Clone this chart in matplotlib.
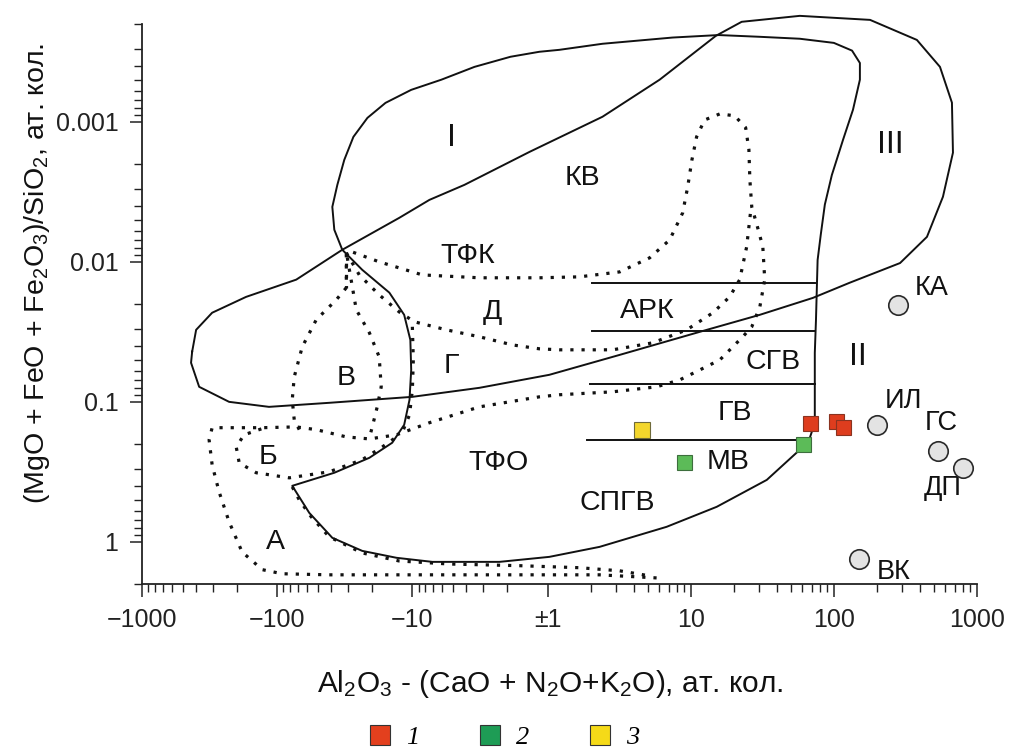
"""
Neelov-type diagram: (MgO+FeO+Fe2O3)/SiO2 vs Al2O3-(CaO+Na2O+K2O)
"""
import numpy as np, matplotlib
matplotlib.use('Agg')
import matplotlib.pyplot as plt
from matplotlib.lines import Line2D
from matplotlib.ticker import LogLocator, NullFormatter

plt.rcParams['font.family'] = ['Liberation Sans', 'DejaVu Sans']
plt.rcParams['mathtext.fontset'] = 'custom'
plt.rcParams['mathtext.rm'] = 'Liberation Sans'
plt.rcParams['mathtext.it'] = 'Liberation Sans:italic'

# ---- samples ----
g1_x = [67.9, 103, 116]
g1_y = [0.141, 0.138, 0.152]
g2_x = [60.4, 8.93]
g2_y = [0.200, 0.267]
g3_x = [4.59]
g3_y = [0.158]

ref_names = ['КА', 'ИЛ', 'ГС', 'ДП', 'ВК']
ref_x = [281, 199, 536, 802, 150]
ref_y = [0.0203, 0.146, 0.223, 0.298, 1.33]

# ---- field boundaries (solid) ----
fieldI_x = [73.6, 73.6, 73.6, 75, 76, 77, 81, 86.5, 96.8, 116, 136, 152, 152, 134, 100,
            57.8, 30.4, 15.7, 7.48, 2.42, 1.21, -1.15, -1.88, -3.47, -6.1, -10.2, -15.8,
            -21.5, -27.3, -31.9, -35.9, -39.1, -37.8, -33, -23.5, -14.8, -11.5, -10.35,
            -10.2, -10.5, -11.5, -14.1, -20.8, -37.8, -77.4, -57.9, -39.1, -23.5, -13.1,
            -7.11, -2.27, 1.03, 2.31, 6.79, 15.2, 34, 57.8, 67.9, 73.6]
fieldI_y = [0.141, 0.078, 0.0447, 0.026, 0.0158, 0.0097, 0.0064, 0.0039, 0.0024, 0.00134,
            0.00082, 0.0005, 0.00038, 0.00031, 0.000273, 0.000255, 0.000247, 0.00024,
            0.00025, 0.000277, 0.000306, 0.000316, 0.000343, 0.000405, 0.0005, 0.000591,
            0.000732, 0.000937, 0.00128, 0.00187, 0.00282, 0.00405, 0.0059, 0.0082,
            0.0114, 0.0166, 0.0239, 0.0361, 0.0591, 0.0968, 0.146, 0.196, 0.251, 0.321,
            0.398, 0.621, 0.936, 1.16, 1.30, 1.39, 1.39, 1.28, 1.086, 0.781, 0.562,
            0.361, 0.22, 0.181, 0.141]

lens_x = [-426, -398, -303, -170, -72.3, -33, -12.5, -7.48, -4.12, -1.36, 2.42, 6.07, 15,
          22.7, 57.8, 179, 380, 551, 668, 679, 578, 447, 290, 129, 71.3, 30.4, 11.6,
          3.19, 1.03, -3.19, -10, -41.2, -115, -227, -378, -434, -426]
lens_y = [0.0439, 0.0306, 0.0231, 0.0178, 0.0134, 0.0082, 0.00485, 0.00361, 0.00282,
          0.00164, 0.00092, 0.0005, 0.000243, 0.000193, 0.000175, 0.000187, 0.00026,
          0.000405, 0.00073, 0.00166, 0.00343, 0.00663, 0.0102, 0.0141, 0.0181, 0.0239,
          0.0316, 0.0462, 0.0641, 0.0794, 0.0921, 0.1016, 0.1086, 0.1, 0.0781, 0.0526,
          0.0439]

hline_y = [0.0141, 0.0311, 0.0743, 0.187]
hline_x0 = [2.06, 2.06, 1.97, 1.9]
hline_x1 = [73.6, 73.6, 73.6, 57.8]

# ---- field boundaries (dotted) ----
dotA_x = [5.78, 2.31, -2.27, -12.5, -41.2, -91.8, -129, -182, -227, -269, -303, -319, -303,
          -129, -72.3, -51.4, -30.8, -20.8, -13.1, -7.48, -3.19, -1.15, 1.21, 2.85, 5.78,
          8.38, 11.6, 16, 23.1, 26.7, 30.4, 32.9, 31.9, 29, 26.7, 25.9, 25.5, 24.2, 20.3,
          16, 12.5, 11, 10.2, 9.53, 8.79, 7.13, 5.17, 3.19, 1.67, -1.15, -3.19, -8.43,
          -17.6, -30.8]
dotA_y = [1.81, 1.72, 1.72, 1.72, 1.72, 1.69, 1.58, 1.18, 0.719, 0.44, 0.282, 0.187, 0.153,
          0.153, 0.151, 0.158, 0.178, 0.184, 0.172, 0.141, 0.1086, 0.0921, 0.089, 0.0848,
          0.0781, 0.0697, 0.0591, 0.0501, 0.0343, 0.0291, 0.021, 0.0134, 0.00781, 0.00544,
          0.00405, 0.00259, 0.00158, 0.0011, 0.000906, 0.000877, 0.00097, 0.00128, 0.00187,
          0.00291, 0.00447, 0.00697, 0.00936, 0.0118, 0.0128, 0.013, 0.013, 0.0124, 0.01,
          0.0082]

dotA2_x = [-77.4, -68.7, -56, -41.2, -23.5, -12.5, -5.32, -1.61, 1.67, 3.19, 5.17]
dotA2_y = [0.405, 0.501, 0.663, 0.921, 1.2, 1.37, 1.44, 1.48, 1.53, 1.61, 1.75]

dotB_x = [-131, -176, -201, -191, -143, -81.5, -41.2, -23.5, -16.7, -13.1]
dotB_y = [0.156, 0.172, 0.21, 0.273, 0.321, 0.349, 0.316, 0.259, 0.21, 0.178]

dotV_x = [-68.7, -74.8, -77.4, -74.8, -65.3, -51.4, -36.6, -30.8, -30.8,
          -26, -20.8, -17.6, -17, -18.2, -19.8, -20.8]
dotV_y = [0.158, 0.1345, 0.0968, 0.0663, 0.0405, 0.0259, 0.0187, 0.0153, 0.0085,
          0.022, 0.0321, 0.0477, 0.0781, 0.1086, 0.151, 0.181]
dotV_stem_x = [-30.8, -30.8]
dotV_stem_y = [0.0085, 0.0153]

dotD_x = [-30.8, -24.7, -17.6, -12.5, -9.67, -5.6, -3.19, -1.82, -1.15, 1.21, 2.85, 5.42,
          9.38, 14.3, 18.7, 22, 24.6, 26.3]
dotD_y = [0.00862, 0.0124, 0.0172, 0.0228, 0.0268, 0.0306, 0.0343, 0.0392, 0.0418, 0.0425,
          0.0425, 0.0379, 0.0306, 0.0231, 0.0178, 0.0134, 0.00781, 0.00425]

dotG_x = [-10, -9.84, -10, -10.5, -11.9]
dotG_y = [0.0291, 0.0501, 0.0821, 0.124, 0.166]

# ---- field names ----
fields = [('I', -5.17, 0.0013), ('КВ', 1.76, 0.00251), ('III', 246, 0.00146),
          ('ТФК', -3.91, 0.00906), ('Д', -2.55, 0.0228), ('АРК', 5.0, 0.0224),
          ('Г', -5.14, 0.0553), ('В', -30.8, 0.0674), ('СГВ', 37.4, 0.0518),
          ('II', 147, 0.0477), ('ГВ', 20.3, 0.12), ('Б', -117, 0.247),
          ('ТФО', -2.31, 0.273), ('МВ', 18.2, 0.268), ('СПГВ', 3.09, 0.526),
          ('А', -103.5, 1.0)]
ref_offsets = [(24, 12), (19, 17), (2, 20), (-15, -14), (25, -9)]

# x axis: equal-width decades on both sides, collapsed at +-1
K = 135 / 143


def fwd(x):
    x = np.asarray(x, dtype=float)
    with np.errstate(all='ignore'):
        pos = np.log10(np.maximum(x, 1.0))
        neg = -K * np.log10(np.maximum(-x, 1.0))
    return np.where(x >= 0, pos, neg)


def inv(u):
    u = np.asarray(u, dtype=float)
    with np.errstate(all='ignore'):
        return np.where(u >= 0, 10.0 ** u, -10.0 ** (-u / K))


fig = plt.figure(figsize=(10.11, 7.49), dpi=100)
fig.patch.set_facecolor('white')
ax = fig.add_axes([0.1405, 0.2203, 0.8259, 0.7477])
ax.set_xscale('function', functions=(fwd, inv))
ax.set_yscale('log')
ax.set_xlim(-1000, 1000)
ax.set_ylim(2, 0.0002)

SOLID = dict(color='#111111', lw=1.4, solid_joinstyle='round')
DOT = dict(color='#111111', lw=2.3, ls=(0, (1, 2.5)))

ax.plot(fieldI_x, fieldI_y, **SOLID)
ax.plot(lens_x, lens_y, clip_on=False, **SOLID)
for y, x0, x1 in zip(hline_y, hline_x0, hline_x1):
    ax.plot([x0, x1], [y, y], **SOLID)

for xs, ys in [(dotA_x, dotA_y), (dotA2_x, dotA2_y), (dotB_x, dotB_y), (dotV_x, dotV_y),
               (dotV_stem_x, dotV_stem_y), (dotD_x, dotD_y), (dotG_x, dotG_y)]:
    ax.plot(xs, ys, **DOT)

for name, x, y in fields:
    size = 23 if name in ('I', 'II', 'III') else 20.5
    ax.text(x, y, name, ha='center', va='center', fontsize=size, color='#111111')

# reference rocks
ax.plot(ref_x, ref_y, 'o', ms=14, mfc='#e3e3e3', mec='#2a2a2a', mew=1.2, zorder=5)
for name, x, y, off in zip(ref_names, ref_x, ref_y, ref_offsets):
    ax.annotate(name, (x, y), xytext=off, textcoords='offset points',
                ha='center', va='center', fontsize=19.5, color='#111111')

# samples
ax.plot(g1_x, g1_y, 's', ms=10.8, mfc='#de3d1e', mec='#8a3320', mew=0.8, zorder=6)
ax.plot(g2_x, g2_y, 's', ms=10.8, mfc='#5cbb58', mec='#3d6e3d', mew=0.8, zorder=6)
ax.plot(g3_x, g3_y, 's', ms=11.2, mfc='#f3d62c', mec='#6e6a3a', mew=0.8, zorder=6)

# axes styling
ax.spines[['top', 'right']].set_visible(False)
ax.spines[['left', 'bottom']].set_linewidth(1.3)
ax.spines[['left', 'bottom']].set_color('#222222')

ax.set_xticks([-1000, -100, -10, 1, 10, 100, 1000])
ax.set_xticklabels(['\u22121000', '\u2212100', '\u221210', '\u00b11', '10', '100', '1000'])
minor_x = [s * m * 10 ** d for s in (-1, 1) for d in (0, 1, 2) for m in range(2, 10)]
ax.set_xticks(minor_x, minor=True)
ax.set_yticks([0.001, 0.01, 0.1, 1])
ax.set_yticklabels(['0.001', '0.01', '0.1', '1'])
ax.yaxis.set_minor_locator(LogLocator(base=10, subs=np.arange(2, 10)))
ax.yaxis.set_minor_formatter(NullFormatter())
ax.tick_params(which='major', direction='out', length=9, width=1.1, labelsize=18,
               pad=8, colors='#222222')
ax.tick_params(which='minor', direction='out', length=6, width=1.0, colors='#222222')

fig.text(550 / 1011, 1 - 684 / 749,
         r'Al$_2$O$_3$ - (CaO + N$_2$O+K$_2$O), ат. кол.',
         ha='center', va='center', fontsize=21.5, color='#111111')
fig.text(37 / 1011, 1 - 273 / 749,
         r'(MgO + FeO + Fe$_2$O$_3$)/SiO$_2$, ат. кол.',
         ha='center', va='center', rotation=90, fontsize=20.5, color='#111111')

leg_colors = ['#e3401e', '#1e9c55', '#f5da18']
handles = [Line2D([], [], ls='none', marker='s', ms=14, mfc=c, mec='#333333', mew=0.8)
           for c in leg_colors]
fig.legend(handles, ['1', '2', '3'], loc='center', bbox_to_anchor=(503 / 1011, 1 - 737 / 749),
           ncol=3, frameon=False, handlelength=1.0, handletextpad=0.47, columnspacing=2.2,
           borderpad=0.2, prop={'family': 'Liberation Serif', 'style': 'italic', 'size': 19})

plt.savefig('out.png', dpi=100, facecolor='white')
plt.close()
print("Saved: out.png")
